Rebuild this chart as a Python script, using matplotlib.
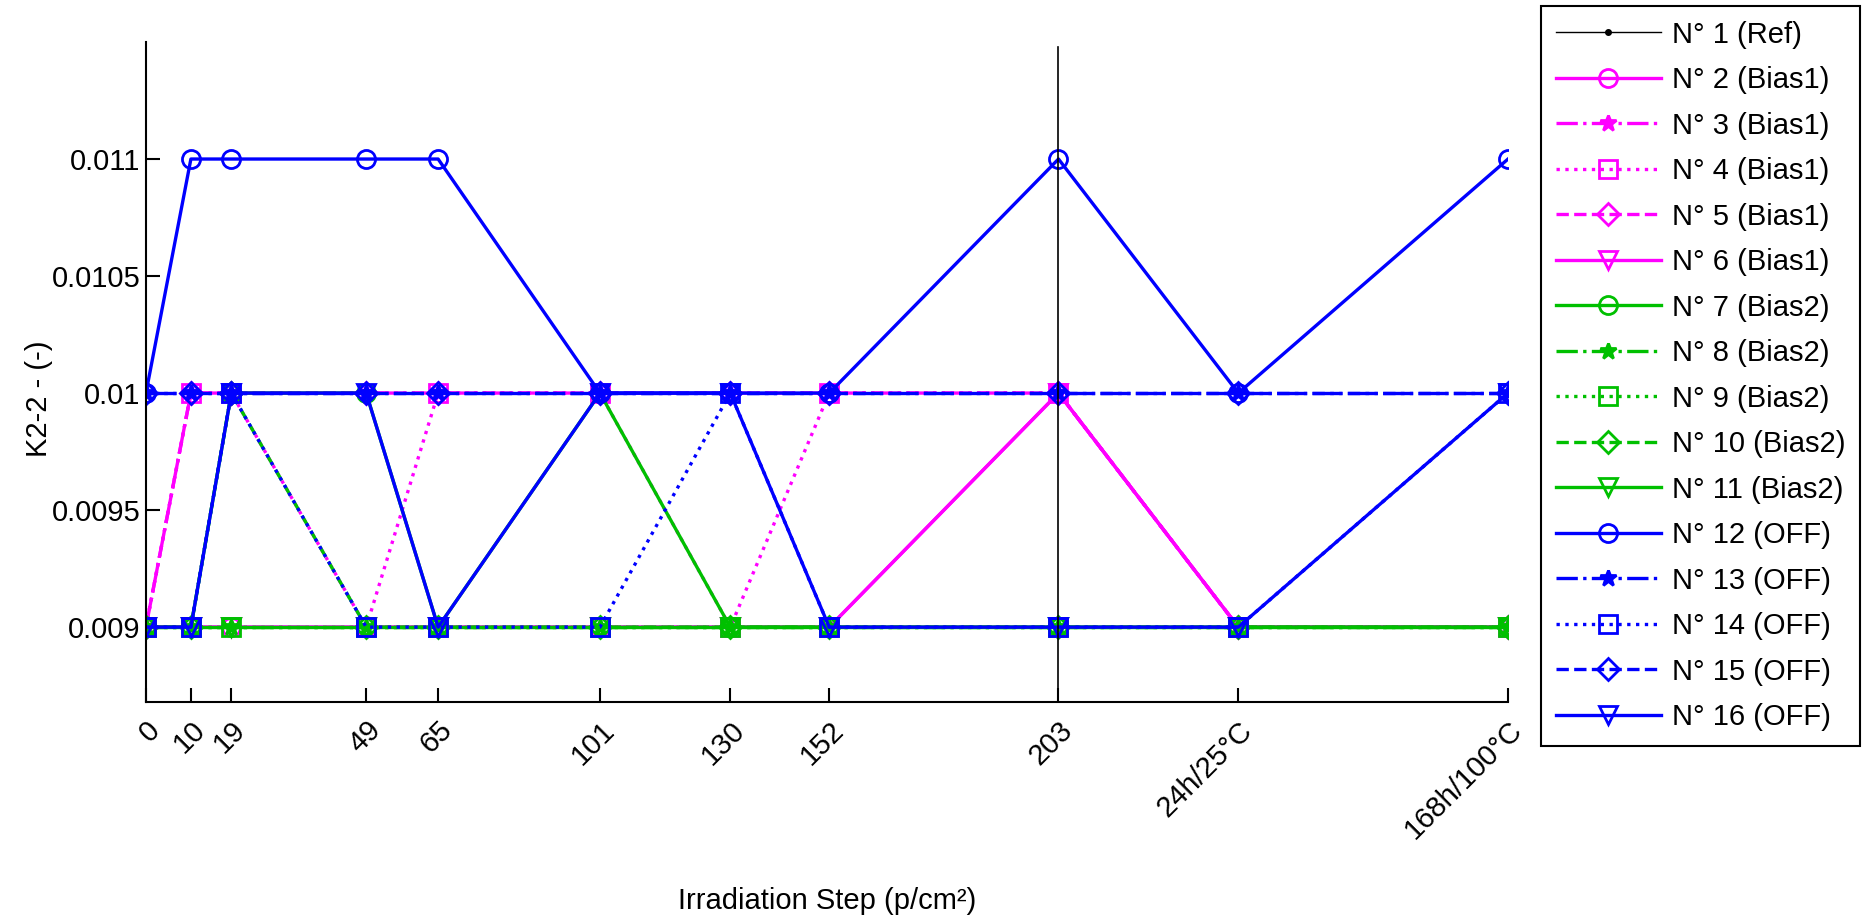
import numpy as np
import matplotlib.pyplot as plt

plt.rcParams['font.family'] = ['Liberation Sans', 'DejaVu Sans']

# posiciones de los pasos de irradiación y etiquetas
pasos = [0, 10, 19, 49, 65, 101, 130, 152, 203, 243, 303]
etiquetas = ['0', '10', '19', '49', '65', '101', '130', '152', '203',
             '24h/25°C', '168h/100°C']

# valores K2-2 de cada dispositivo
n01 = [0.009, 0.009, 0.009, 0.009, 0.009, 0.009, 0.009, 0.009, 0.009, 0.009, 0.009]
n02 = [0.009, 0.009, 0.009, 0.009, 0.009, 0.009, 0.009, 0.009, 0.010, 0.009, 0.009]
n03 = [0.009, 0.010, 0.010, 0.010, 0.010, 0.010, 0.010, 0.010, 0.010, 0.009, 0.009]
n04 = [0.009, 0.010, 0.010, 0.009, 0.010, 0.010, 0.009, 0.010, 0.010, 0.009, 0.009]
n05 = [0.009, 0.010, 0.010, 0.010, 0.010, 0.010, 0.010, 0.010, 0.010, 0.009, 0.009]
n06 = [0.009, 0.009, 0.009, 0.009, 0.009, 0.009, 0.009, 0.009, 0.010, 0.009, 0.009]
n07 = [0.009, 0.009, 0.010, 0.010, 0.009, 0.010, 0.009, 0.009, 0.009, 0.009, 0.009]
n08 = [0.009, 0.009, 0.009, 0.009, 0.009, 0.009, 0.009, 0.009, 0.009, 0.009, 0.009]
n09 = [0.009, 0.009, 0.009, 0.009, 0.009, 0.009, 0.009, 0.009, 0.009, 0.009, 0.009]
n10 = [0.009, 0.009, 0.010, 0.009, 0.009, 0.009, 0.009, 0.009, 0.009, 0.009, 0.009]
n11 = [0.009, 0.009, 0.009, 0.009, 0.009, 0.009, 0.009, 0.009, 0.009, 0.009, 0.009]
n12 = [0.010, 0.011, 0.011, 0.011, 0.011, 0.010, 0.010, 0.010, 0.011, 0.010, 0.011]
n13 = [0.010, 0.010, 0.010, 0.010, 0.010, 0.010, 0.010, 0.010, 0.010, 0.010, 0.010]
n14 = [0.009, 0.009, 0.010, 0.009, 0.009, 0.009, 0.010, 0.009, 0.009, 0.009, 0.010]
n15 = [0.010, 0.010, 0.010, 0.010, 0.010, 0.010, 0.010, 0.010, 0.010, 0.010, 0.010]
n16 = [0.009, 0.009, 0.010, 0.010, 0.009, 0.010, 0.010, 0.009, 0.009, 0.009, 0.010]

series = [n01, n02, n03, n04, n05, n06, n07, n08, n09, n10, n11, n12, n13, n14, n15, n16]
nombres = ['N° 1 (Ref)'] + ['N° %d (Bias1)' % i for i in range(2, 7)] + \
          ['N° %d (Bias2)' % i for i in range(7, 12)] + \
          ['N° %d (OFF)' % i for i in range(12, 17)]

magenta = '#ff00ff'
verde = '#00c000'
azul = '#0000ff'
estilos = ['-', '-.', ':', '--', '-']
marcas = ['o', '*', 's', 'D', 'v']

fig = plt.figure(figsize=(18.71, 9.19), dpi=100)
ax = fig.add_axes([0.078, 0.2361, 0.728, 0.7182])

ax.plot(pasos, n01, color='k', lw=1.0, marker='.', ms=8, label=nombres[0])
for i in range(1, 16):
    color = [magenta, verde, azul][(i - 1) // 5]
    k = (i - 1) % 5
    mk = marcas[k]
    ms = 11 if mk == 'D' else 13
    if mk == '*':
        ms = 12
    ax.plot(pasos, series[i], color=color, ls=estilos[k], lw=2.4, marker=mk,
            ms=ms, mfc=color if mk == '*' else 'none', mec=color, mew=2,
            label=nombres[i])

ax.axvline(203, ymax=0.992, color='k', lw=1.2)

ax.set_xlim(0, 303)
ax.set_ylim(0.00868, 0.0115)
ax.set_xticks(pasos)
ax.set_xticklabels(etiquetas, rotation=45, ha='right', rotation_mode='anchor')
ax.set_yticks([0.009, 0.0095, 0.01, 0.0105, 0.011])
ax.set_yticklabels(['0.009', '0.0095', '0.01', '0.0105', '0.011'])
ax.tick_params(direction='in', length=10, width=1.5, labelsize=21)
ax.tick_params(axis='y', pad=4)
ax.tick_params(axis='x', pad=10)
for s in ['top', 'right']:
    ax.spines[s].set_visible(False)
for s in ['left', 'bottom']:
    ax.spines[s].set_linewidth(1.5)

ax.set_xlabel('Irradiation Step (p/cm²)', fontsize=21)
ax.xaxis.set_label_coords(0.5, -0.28)
ax.set_ylabel('K2-2 - (-)', fontsize=21)
ax.yaxis.set_label_coords(-0.068, 0.46)

leg = ax.legend(loc='upper left', bbox_to_anchor=(0.8236, 0.9935),
                bbox_transform=fig.transFigure, borderaxespad=0, fontsize=21,
                handlelength=3.6, handletextpad=0.4, labelspacing=0.6,
                borderpad=0.5, fancybox=False, framealpha=1, numpoints=1)
leg.get_frame().set_edgecolor('k')
leg.get_frame().set_linewidth(1.5)

plt.savefig('out.png', dpi=100)
plt.close()
